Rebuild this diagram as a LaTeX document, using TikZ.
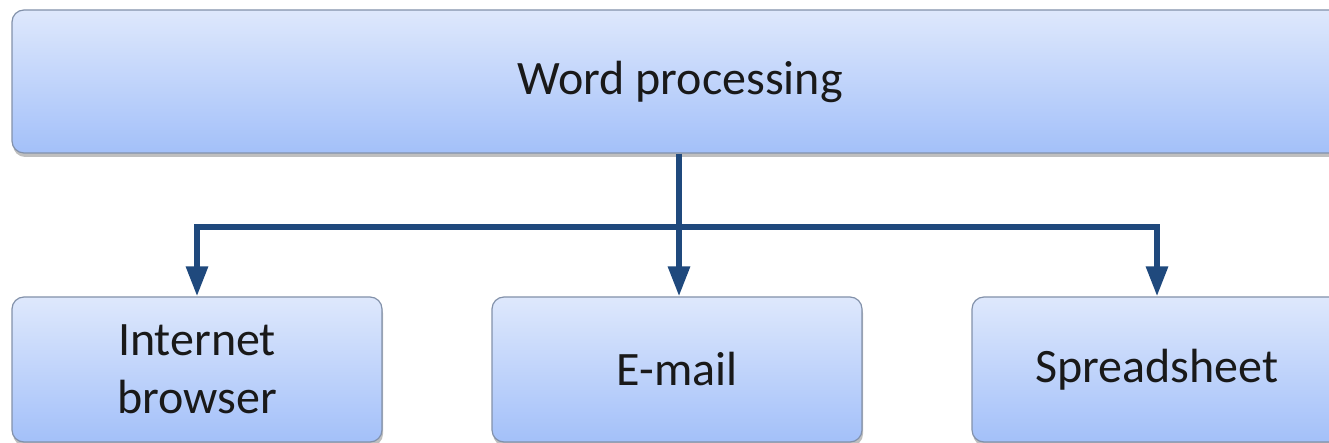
\documentclass[tikz,border=0pt]{standalone}
\usepackage{fontspec}
\setmainfont{Carlito}
\usetikzlibrary{arrows.meta,shadows}
\definecolor{boxtop}{RGB}{222,232,252}
\definecolor{boxbot}{RGB}{163,192,249}
\definecolor{boxline}{RGB}{130,145,170}
\definecolor{conncol}{RGB}{31,73,125}
\tikzset{
  box/.style={draw=boxline, line width=1.2pt, rounded corners=12pt,
    top color=boxtop, bottom color=boxbot, inner sep=0pt,
    align=center, font=\fontsize{48}{58}\selectfont, text=black!90,
    drop shadow={shadow xshift=1pt, shadow yshift=-4pt, fill=black, opacity=0.25}},
  conn/.style={draw=conncol, line width=6pt,
    -{Triangle[width=21pt,length=30pt]}}
}
\begin{document}
\begin{tikzpicture}[x=1pt,y=1pt]
\useasboundingbox (0,0) rectangle (1329,443);
\clip (0,0) rectangle (1329,443);
\node[box, minimum width=1336pt, minimum height=143pt] (top) at (680,361.5) {Word processing};
\node[box, minimum width=370pt, minimum height=145pt] (left) at (197,73.5) {Internet\\browser};
\node[box, minimum width=370pt, minimum height=145pt] (mid) at (677,73.5) {E-mail};
\node[box, minimum width=370pt, minimum height=145pt] (right) at (1157,73.5) {Spreadsheet};
\coordinate (bar) at (679,216);
\draw[conn] (top.south -| bar) -- (bar |- mid.north);
\draw[conn, shorten <=-3pt] (bar) -| (left.north);
\draw[conn, shorten <=-3pt] (bar) -| (right.north);
\end{tikzpicture}
\end{document}
